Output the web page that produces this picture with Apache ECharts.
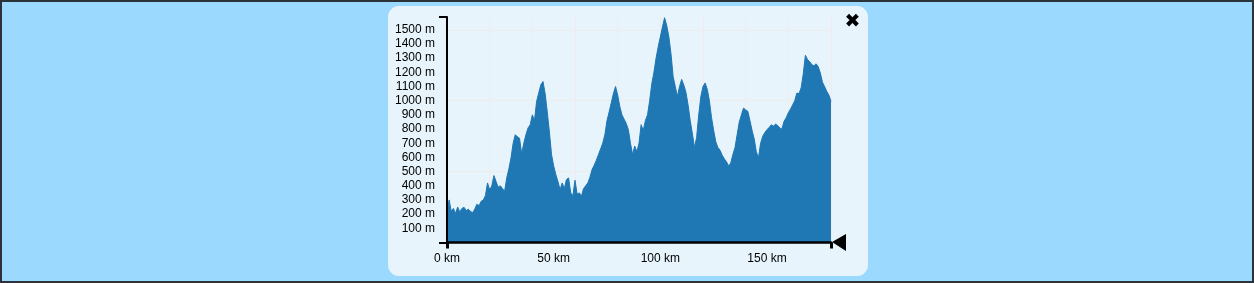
<!DOCTYPE html>
<html>
<head>
<meta charset="utf-8">
<script src="https://cdn.jsdelivr.net/npm/echarts@6/dist/echarts.min.js"></script>
<style>
  html, body { margin: 0; padding: 0; }
  #frame { position: relative; width: 1254px; height: 283px; box-sizing: border-box;
           border: 2px solid #2c3338; background: #9cd9fe; overflow: hidden; }
  #panel { position: absolute; left: 386px; top: 4px; width: 480px; height: 270px;
           border-radius: 11px; background: #e7f4fb; }
  #chart { position: absolute; left: -2px; top: -2px; width: 1254px; height: 283px; }
</style>
</head>
<body>
<div id="frame">
  <div id="panel"></div>
  <div id="chart"></div>
</div>
<script>
// Distance along route (km)
const distanceKm = [];
for (let k = 0; k <= 180; k++) distanceKm.push(k);

// Elevation (m), one value per km
const elevationM = [
  210, 300, 220, 240, 205, 250, 215, 240, 248, 225,
  235, 220, 210, 235, 270, 260, 290, 300, 330, 420,
  370, 400, 472, 430, 390, 400, 380, 361, 455, 520,
  596, 700, 760, 745, 735, 625, 700, 760, 808, 830,
  900, 860, 995, 1054, 1113, 1135, 1050, 920, 780, 620,
  540, 480, 430, 373, 420, 380, 444, 455, 350, 330,
  439, 340, 350, 326, 380, 400, 420, 460, 514, 545,
  580, 620, 660, 700, 760, 860, 920, 985, 1050, 1100,
  1040, 960, 900, 870, 840, 796, 700, 620, 680, 640,
  700, 831, 790, 860, 900, 1000, 1120, 1200, 1300, 1380,
  1450, 1520, 1585, 1530, 1450, 1330, 1170, 1100, 1030, 1100,
  1150, 1110, 1060, 970, 860, 770, 670, 740, 900, 1030,
  1100, 1125, 1080, 1000, 880, 790, 710, 670, 650, 615,
  590, 570, 540, 560, 620, 670, 760, 850, 900, 948,
  935, 925, 860, 790, 730, 640, 597, 700, 750, 775,
  796, 810, 830, 820, 835, 825, 808, 800, 855, 880,
  915, 940, 970, 1000, 1054, 1050, 1090, 1190, 1320, 1290,
  1275, 1255, 1245, 1260, 1240, 1195, 1130, 1100, 1066, 1040,
  995
];

const xLabelValues = [0, 50, 100, 150];
const yLabelValues = [100, 200, 300, 400, 500, 600, 700, 800, 900, 1000, 1100, 1200, 1300, 1400, 1500];

const X_MAX = 180;
const Y_MAX = 1590;

const chart = echarts.init(document.getElementById('chart'), null, { renderer: 'canvas' });
const fontFamily = '"Liberation Sans", Arial, sans-serif';
const gridColor = '#efeceb';

const seriesData = distanceKm.map((d, i) => [d, elevationM[i]]);

chart.setOption({
  animation: false,
  backgroundColor: 'transparent',
  grid: { left: 447, right: 423, top: 17, bottom: 40.5 },
  xAxis: [
    {
      type: 'value', min: 0, max: X_MAX, interval: 50, z: 5,
      axisLine: { show: true, onZero: false, lineStyle: { color: '#000', width: 2.5 } },
      axisTick: { show: true, customValues: [0, X_MAX], length: 6, lineStyle: { color: '#000', width: 3 } },
      axisLabel: { customValues: xLabelValues, formatter: function (v) { return v + ' km'; }, color: '#000',
                   fontSize: 12, fontFamily: fontFamily, margin: 10 },
      splitLine: { show: false }
    },
    {
      type: 'value', min: 0, max: X_MAX, interval: 20, z: 0,
      axisLine: { show: false }, axisTick: { show: false }, axisLabel: { show: false },
      splitLine: { show: true, showMinLine: false, lineStyle: { color: gridColor, width: 1 } }
    }
  ],
  yAxis: [
    {
      type: 'value', min: 0, max: Y_MAX, interval: 100, z: 5,
      axisLine: { show: true, onZero: false, lineStyle: { color: '#000', width: 2 } },
      axisTick: { show: true, customValues: [0, Y_MAX], length: 8, lineStyle: { color: '#000', width: 2 } },
      axisLabel: { customValues: yLabelValues, formatter: function (v) { return v + ' m'; }, color: '#000',
                   fontSize: 12, fontFamily: fontFamily, margin: 12 },
      splitLine: { show: false }
    },
    {
      type: 'value', min: 0, max: Y_MAX, interval: 500, z: 0,
      axisLine: { show: false }, axisTick: { show: false }, axisLabel: { show: false },
      splitLine: { show: true, showMinLine: false, showMaxLine: false, lineStyle: { color: gridColor, width: 1 } }
    }
  ],
  series: [
    {
      type: 'line', xAxisIndex: 0, yAxisIndex: 0, z: 2,
      data: seriesData, showSymbol: false, symbol: 'none',
      lineStyle: { color: '#1f77b4', width: 1 },
      areaStyle: { color: '#1f77b4', opacity: 1 },
      silent: true
    }
  ],
  graphic: [
    { type: 'polygon', shape: { points: [[832, 242], [846, 234], [846, 251]] },
      style: { fill: '#000' }, z: 10 },
    { type: 'text', x: 852.5, y: 22.5,
      style: { text: '\u2716', fontSize: 19, fontFamily: '"DejaVu Sans", sans-serif',
               fill: '#000', align: 'center', verticalAlign: 'middle' }, z: 10 }
  ]
});
</script>
</body>
</html>
